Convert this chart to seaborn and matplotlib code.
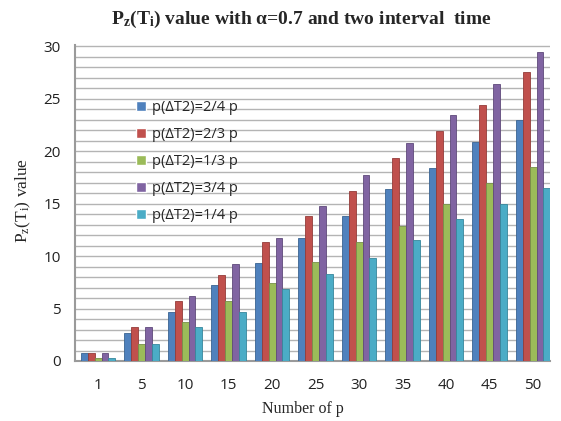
import matplotlib
matplotlib.use("Agg")
import matplotlib.pyplot as plt
import seaborn as sns
import pandas as pd
import numpy as np
from matplotlib.ticker import MultipleLocator

categories = ["1", "5", "10", "15", "20", "25", "30", "35", "40", "45", "50"]
series_names = ["p(ΔT2)=2/4 p", "p(ΔT2)=2/3 p", "p(ΔT2)=1/3 p", "p(ΔT2)=3/4 p", "p(ΔT2)=1/4 p"]
s_2_4 = [0.8, 2.7, 4.7, 7.2, 9.3, 11.7, 13.8, 16.4, 18.4, 20.9, 23.0]
s_2_3 = [0.8, 3.2, 5.7, 8.2, 11.3, 13.8, 16.2, 19.3, 21.9, 24.4, 27.5]
s_1_3 = [0.3, 1.6, 3.7, 5.7, 7.4, 9.4, 11.3, 12.9, 15.0, 17.0, 18.5]
s_3_4 = [0.8, 3.2, 6.2, 9.2, 11.7, 14.8, 17.7, 20.8, 23.4, 26.4, 29.4]
s_1_4 = [0.3, 1.6, 3.2, 4.7, 6.9, 8.3, 9.8, 11.5, 13.5, 15.0, 16.5]
colors = ["#4F81BD", "#C0504D", "#9BBB59", "#8064A2", "#4BACC6"]
edge_colors = ["#3A6491", "#943C3A", "#76904A", "#5F4A7A", "#37879C"]

all_series = [s_2_4, s_2_3, s_1_3, s_3_4, s_1_4]
rows = []
for name, vals in zip(series_names, all_series):
    for c, v in zip(categories, vals):
        rows.append({"p": c, "value": v, "series": name})
df = pd.DataFrame(rows)

sns.set_style("white")
plt.rcParams["mathtext.fontset"] = "custom"
plt.rcParams["mathtext.rm"] = "Liberation Serif"
plt.rcParams["mathtext.it"] = "Liberation Serif:italic"
plt.rcParams["mathtext.bf"] = "Liberation Serif:bold"

fig = plt.figure(figsize=(5.61, 4.21), dpi=100)
ax = fig.add_axes([75/561, 1-361/421, 475/561, 316/421])

sns.barplot(data=df, x="p", y="value", hue="series", order=categories,
            hue_order=series_names, palette=colors, width=0.8, ax=ax,
            saturation=1, legend=True)

for i, cont in enumerate(ax.containers):
    for b in cont:
        b.set_edgecolor(edge_colors[i])
        b.set_linewidth(0.6)
        b.set_zorder(3)

ax.set_ylim(0, 30.1)
ax.set_xlim(-0.53, 10.39)
ax.yaxis.set_major_locator(MultipleLocator(5))
ax.yaxis.set_minor_locator(MultipleLocator(1))
ax.grid(which="both", axis="y", color="#B4B4B4", linewidth=1.0, zorder=0)
ax.set_axisbelow(True)
for s in ["top", "right"]:
    ax.spines[s].set_visible(False)
ax.spines["left"].set_color("#9A9A9A")
ax.spines["left"].set_linewidth(1.5)
ax.spines["bottom"].set_color("#9A9A9A")
ax.spines["bottom"].set_linewidth(1.5)
ax.tick_params(axis="both", length=0, labelsize=11)
ax.tick_params(axis="y", pad=10)
ax.tick_params(axis="x", pad=12)
for lbl in ax.get_xticklabels() + ax.get_yticklabels():
    lbl.set_fontfamily("Open Sans")
    lbl.set_color("#222222")

ax.set_xlabel("Number of p", fontfamily="Liberation Serif", fontsize=11.5)
ax.xaxis.set_label_coords((303 - 75) / 475, -(401 - 361) / 316)
ax.set_ylabel(r"P$_\mathregular{z}$(T$_\mathregular{i}$) value", fontfamily="Liberation Serif",
              fontsize=12.5)
ax.yaxis.set_label_coords(-(75 - 33) / 475, (361 - 200) / 316)
fig.text(301/561, 1 - 19/421, r"P$_\mathbf{z}$(T$_\mathbf{i}$) value with α=0.7 and two interval  time",
         ha="center", va="center", fontfamily="Liberation Serif", fontweight="bold", fontsize=14)

handles, labels = ax.get_legend_handles_labels()
leg = ax.legend(handles, labels, loc="upper left", bbox_to_anchor=(0.10, (361 - 87) / 316),
                frameon=False, prop={"family": "Open Sans", "size": 10.5},
                handlelength=0.7, handleheight=0.7, handletextpad=0.4, labelspacing=0.82)

fig.savefig("out.png", dpi=100)
